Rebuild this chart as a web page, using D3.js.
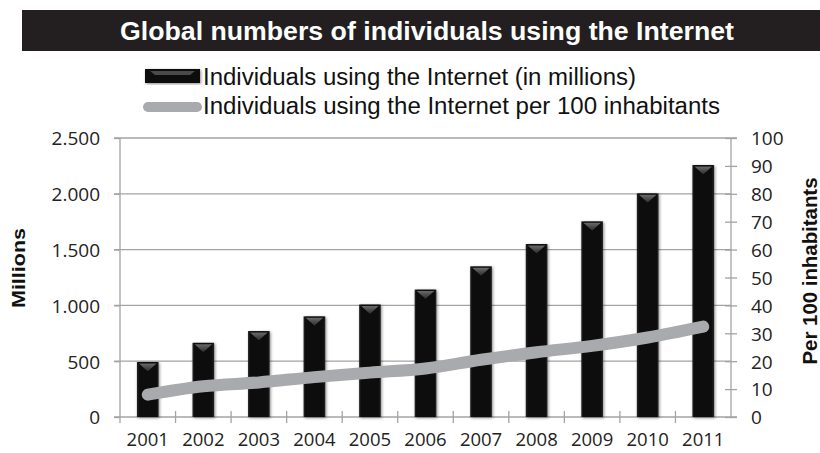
<!DOCTYPE html>
<html>
<head>
<meta charset="utf-8">
<script src="https://cdn.jsdelivr.net/npm/d3@7"></script>
<style>
  html, body { margin: 0; padding: 0; background: #fff; }
  svg { display: block; }
</style>
</head>
<body>
<svg id="chart" width="820" height="453"></svg>
<script>
// Internet users worldwide, 2001–2011
const years = ["2001","2002","2003","2004","2005","2006","2007","2008","2009","2010","2011"];
const usersMillions = [493, 665, 770, 902, 1008, 1142, 1350, 1550, 1753, 2004, 2258];
const usersPer100 = [8.0, 11.0, 12.4, 14.3, 15.9, 17.4, 20.5, 23.2, 25.5, 28.5, 32.4];
const leftTicks = [0, 500, 1000, 1500, 2000, 2500];
const rightTicks = [0, 10, 20, 30, 40, 50, 60, 70, 80, 90, 100];
const leftTickLabels = ["0", "500", "1.000", "1.500", "2.000", "2.500"];

const titleText = "Global numbers of individuals using the Internet";
const legendBars = "Individuals using the Internet (in millions)";
const legendLine = "Individuals using the Internet per 100 inhabitants";

const svg = d3.select("#chart");
const plot = { left: 120, right: 731, top: 138, bottom: 417 };
const gridColor = "#a3a3a3";
const numFont = "'Open Sans', 'DejaVu Sans', sans-serif";
const headFont = "'Liberation Sans', Arial, sans-serif";

const x = d3.scaleBand().domain(years).range([plot.left, plot.right]).padding(0);
const yL = d3.scaleLinear().domain([0, 2500]).range([plot.bottom, plot.top]);
const yR = d3.scaleLinear().domain([0, 100]).range([plot.bottom, plot.top]);
const barW = x.bandwidth() * 0.39;

// soft shadow for the columns
const defs = svg.append("defs");
const shadow = defs.append("filter").attr("id", "barShadow")
  .attr("x", "-30%").attr("y", "-10%").attr("width", "160%").attr("height", "120%");
shadow.append("feDropShadow").attr("dx", 1).attr("dy", 1)
  .attr("stdDeviation", 1.6).attr("flood-color", "#000").attr("flood-opacity", 0.45);
const barGrad = defs.append("linearGradient").attr("id", "barGrad")
  .attr("x1", 0).attr("x2", 1).attr("y1", 0).attr("y2", 0);
barGrad.append("stop").attr("offset", "0%").attr("stop-color", "#262626");
barGrad.append("stop").attr("offset", "12%").attr("stop-color", "#070707");
barGrad.append("stop").attr("offset", "88%").attr("stop-color", "#070707");
barGrad.append("stop").attr("offset", "100%").attr("stop-color", "#262626");
const bevelGrad = defs.append("linearGradient").attr("id", "bevelGrad")
  .attr("x1", 0).attr("x2", 0).attr("y1", 0).attr("y2", 1);
bevelGrad.append("stop").attr("offset", "0%").attr("stop-color", "#6a6a6a");
bevelGrad.append("stop").attr("offset", "100%").attr("stop-color", "#2a2a2a");

// title band
svg.append("rect").attr("x", 22).attr("y", 10).attr("width", 798).attr("height", 41)
  .attr("fill", "#231f20");
svg.append("text").attr("x", 427).attr("y", 40)
  .attr("text-anchor", "middle").attr("fill", "#fff")
  .attr("font-family", headFont).attr("font-weight", "bold").attr("font-size", 25)
  .attr("textLength", 614).attr("lengthAdjust", "spacingAndGlyphs")
  .text(titleText);

// gridlines
svg.append("g").selectAll("line").data(leftTicks.slice(1)).join("line")
  .attr("x1", plot.left - 6).attr("x2", d => d === 2500 ? plot.right + 6 : plot.right)
  .attr("y1", d => yL(d)).attr("y2", d => yL(d))
  .attr("stroke", gridColor).attr("stroke-width", 1.3);

// left axis
const leftAxis = svg.append("g").attr("transform", `translate(${plot.left},0)`)
  .call(d3.axisLeft(yL).tickValues(leftTicks).tickSize(6).tickPadding(14)
    .tickFormat((d, i) => leftTickLabels[i]));
leftAxis.select(".domain").remove();
leftAxis.append("line").attr("x1", 0).attr("x2", 0).attr("y1", plot.top).attr("y2", plot.bottom + 6)
  .attr("stroke", gridColor).attr("stroke-width", 1.3);

// right axis
const rightAxis = svg.append("g").attr("transform", `translate(${plot.right},0)`)
  .call(d3.axisRight(yR).tickValues(rightTicks).tickSize(6).tickPadding(14));
rightAxis.select(".domain").remove();
rightAxis.selectAll(".tick line").attr("x1", -6);
rightAxis.append("line").attr("x1", 0).attr("x2", 0).attr("y1", plot.top).attr("y2", plot.bottom)
  .attr("stroke", gridColor).attr("stroke-width", 1.3);

// bottom axis with ticks between categories
const bottom = svg.append("g").attr("transform", `translate(0,${plot.bottom})`);
bottom.append("line").attr("x1", plot.left - 6).attr("x2", plot.right + 6)
  .attr("y1", 0).attr("y2", 0).attr("stroke", gridColor).attr("stroke-width", 1.3);
bottom.selectAll("line.sep").data(years.slice(1)).join("line").attr("class", "sep")
  .attr("x1", d => x(d)).attr("x2", d => x(d)).attr("y1", -6).attr("y2", 6)
  .attr("stroke", gridColor).attr("stroke-width", 1.3);
const yearLabels = bottom.selectAll("text").data(years).join("text")
  .attr("x", d => x(d) + x.bandwidth() / 2).attr("y", 29)
  .attr("text-anchor", "middle").text(d => d);

[leftAxis, rightAxis].forEach(g => {
  g.selectAll(".tick line").attr("stroke", gridColor).attr("stroke-width", 1.3);
});
svg.selectAll(".tick text, g text").attr("font-family", numFont).attr("font-size", 19)
  .attr("fill", "#222");
yearLabels.attr("font-size", 18.5);
leftAxis.selectAll(".tick text").attr("dy", "0.36em");
rightAxis.selectAll(".tick text").attr("dy", "0.36em");

// columns
const bars = svg.append("g").selectAll("g").data(years).join("g")
  .attr("filter", "url(#barShadow)");
bars.append("rect")
  .attr("x", d => x(d) + (x.bandwidth() - barW) / 2)
  .attr("y", (d, i) => yL(usersMillions[i]))
  .attr("width", barW)
  .attr("height", (d, i) => yL(0) - yL(usersMillions[i]))
  .attr("fill", "url(#barGrad)");
bars.append("path")
  .attr("d", (d, i) => {
    const x0 = x(d) + (x.bandwidth() - barW) / 2 + 2, x1 = x0 + barW - 4;
    const yt = yL(usersMillions[i]) + 1.5;
    const xc = (x0 + x1) / 2;
    return `M${x0},${yt}L${x1},${yt}L${xc},${yt + 8}Z`;
  })
  .attr("fill", "url(#bevelGrad)");

// per-100 line
const line = d3.line()
  .x((d, i) => x(years[i]) + x.bandwidth() / 2)
  .y(d => yR(d))
  .curve(d3.curveCatmullRom.alpha(0.5));
svg.append("path").datum(usersPer100).attr("d", line)
  .attr("fill", "none").attr("stroke", "#a9aaad").attr("stroke-width", 12)
  .attr("stroke-linecap", "round").attr("stroke-linejoin", "round");

// legend
const lg = svg.append("g");
lg.append("rect").attr("x", 145).attr("y", 69).attr("width", 55).attr("height", 14)
  .attr("fill", "#080808").attr("filter", "url(#barShadow)");
lg.append("path").attr("d", "M150,71L195,71L190,75L155,75Z").attr("fill", "#4a4a4a");
lg.append("line").attr("x1", 148).attr("x2", 197).attr("y1", 107).attr("y2", 107)
  .attr("stroke", "#a9aaad").attr("stroke-width", 10).attr("stroke-linecap", "round");
lg.append("text").attr("x", 203).attr("y", 85).text(legendBars)
  .attr("textLength", 433).attr("lengthAdjust", "spacingAndGlyphs");
lg.append("text").attr("x", 203).attr("y", 114).text(legendLine)
  .attr("textLength", 517).attr("lengthAdjust", "spacingAndGlyphs");
lg.selectAll("text").attr("font-family", headFont).attr("font-size", 23).attr("fill", "#111");

// axis titles
svg.append("text").attr("transform", "translate(25,268) rotate(-90)")
  .attr("text-anchor", "middle").attr("font-family", headFont).attr("font-weight", "bold")
  .attr("font-size", 18).attr("fill", "#111")
  .attr("textLength", 80).attr("lengthAdjust", "spacingAndGlyphs").text("Millions");
svg.append("text").attr("transform", "translate(817,271) rotate(-90)")
  .attr("text-anchor", "middle").attr("font-family", headFont).attr("font-weight", "bold")
  .attr("font-size", 20.5).attr("fill", "#111")
  .attr("textLength", 187).attr("lengthAdjust", "spacingAndGlyphs").text("Per 100 inhabitants");
</script>
</body>
</html>
